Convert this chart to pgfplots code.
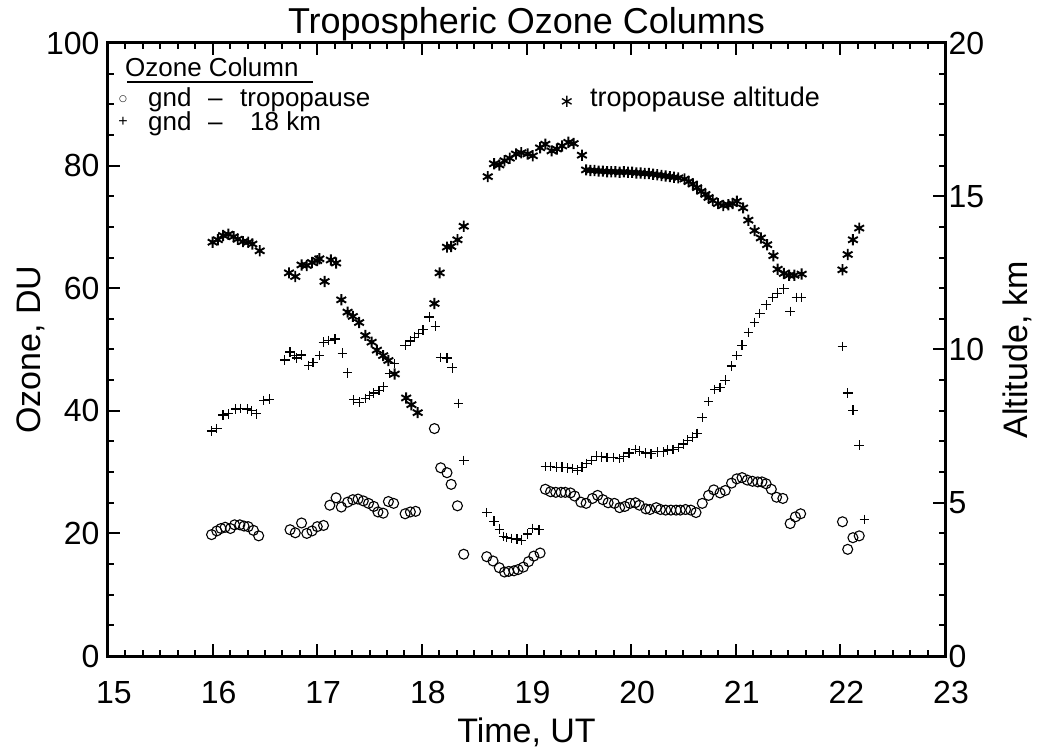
\documentclass[border=0pt]{standalone}
\usepackage{pgfplots}
\pgfplotsset{compat=1.18}
\usepackage{fontspec}
\setmainfont{Liberation Sans}
\newfontfamily\djv{DejaVu Sans}
\newcommand\lf{\fontsize{26}{26}\selectfont}
\begin{document}
\begin{tikzpicture}
\pgfplotsset{
  common/.style={
    scale only axis, width=837pt, height=613pt,
    xmin=15, xmax=23,
    tick align=inside,
    major tick length=12pt, minor tick length=6pt,
    every tick/.style={black, line width=2pt},
    axis line style={line width=3pt},
    ticklabel style={font=\fontsize{32}{32}\selectfont},
    /pgf/number format/assume math mode=true,
    label style={font=\fontsize{34}{34}\selectfont},
    clip=false,
  }
}
\begin{axis}[common, name=main,
  ymin=0, ymax=100,
  xtick={15,...,23}, minor x tick num=5,
  ytick={0,20,...,100}, minor y tick num=3,
  xtick pos=both, xticklabel pos=lower, ytick pos=left,
  xticklabel style={yshift=-22pt, xshift=6pt},
  yticklabel style={xshift=-5pt},
  xlabel={Time, UT},
  xlabel style={at={(axis description cs:0.5,0)}, anchor=base, yshift=-86pt},
  ylabel={Ozone, DU},
  ylabel style={at={(axis description cs:-0.092,0.5)}, anchor=center},
]
% gnd - tropopause
\addplot[only marks, mark=o, mark size=5pt, mark options={line width=1.1pt}] table {
15.99 19.8
16.04 20.4
16.08 20.8
16.12 21.0
16.17 20.8
16.21 21.4
16.26 21.4
16.30 21.2
16.34 21.1
16.39 20.5
16.44 19.6
16.74 20.6
16.79 20.1
16.85 21.7
16.90 20.0
16.95 20.4
17.00 21.1
17.06 21.3
17.12 24.6
17.18 25.8
17.23 24.3
17.29 25.1
17.34 25.5
17.39 25.6
17.44 25.3
17.49 24.9
17.54 24.4
17.58 23.5
17.63 23.3
17.68 25.2
17.73 24.9
17.84 23.2
17.89 23.5
17.94 23.6
18.12 37.1
18.18 30.7
18.24 29.9
18.28 28.0
18.34 24.5
18.40 16.6
18.62 16.2
18.68 15.5
18.74 14.4
18.79 13.7
18.83 13.8
18.88 13.9
18.92 14.1
18.97 14.5
19.02 15.4
19.07 16.3
19.13 16.8
19.18 27.2
19.23 26.8
19.28 26.7
19.33 26.7
19.37 26.7
19.42 26.6
19.46 26.1
19.52 25.1
19.57 24.9
19.63 25.7
19.68 26.2
19.73 25.5
19.78 25.0
19.84 24.9
19.89 24.2
19.94 24.4
19.99 24.9
20.04 25.0
20.08 24.6
20.14 24.0
20.18 23.9
20.24 24.2
20.28 23.9
20.33 23.8
20.38 23.8
20.43 23.8
20.47 23.8
20.52 23.9
20.57 23.8
20.62 23.4
20.68 24.9
20.74 26.2
20.79 27.1
20.85 26.6
20.90 27.0
20.96 28.2
21.01 28.9
21.06 29.1
21.11 28.7
21.16 28.5
21.21 28.4
21.25 28.4
21.29 28.1
21.34 27.2
21.39 25.9
21.45 25.7
21.52 21.6
21.57 22.7
21.62 23.2
22.02 21.9
22.07 17.4
22.12 19.3
22.18 19.6
};
% gnd - 18 km
\addplot[only marks, mark=+, mark size=4.8pt, mark options={line width=1.2pt}] table {
15.99 36.7
16.04 37.1
16.10 39.3
16.15 39.5
16.22 40.3
16.27 40.4
16.33 40.3
16.37 40.0
16.42 39.5
16.49 41.7
16.54 41.9
16.69 48.3
16.74 49.6
16.78 49.0
16.80 48.6
16.85 49.1
16.92 47.4
16.96 47.9
17.02 49.0
17.06 51.2
17.11 51.5
17.17 51.7
17.24 49.4
17.29 46.2
17.35 41.8
17.40 41.4
17.46 42.0
17.50 42.5
17.54 42.9
17.59 43.3
17.63 43.9
17.69 46.1
17.74 47.7
17.84 50.7
17.89 51.4
17.93 52.0
17.97 52.6
18.01 53.2
18.07 55.3
18.13 53.8
18.18 48.7
18.24 48.6
18.29 47.0
18.35 41.2
18.40 31.9
18.62 23.4
18.69 22.0
18.74 20.7
18.78 19.5
18.81 19.3
18.86 19.2
18.91 19.1
18.95 18.9
19.01 19.9
19.06 20.8
19.12 20.6
19.18 30.9
19.23 30.9
19.29 30.8
19.34 30.8
19.39 30.7
19.44 30.6
19.49 30.3
19.53 30.8
19.57 31.4
19.62 31.9
19.67 32.6
19.72 32.5
19.77 32.4
19.83 32.4
19.89 32.2
19.93 32.5
19.98 33.1
20.04 33.7
20.08 33.4
20.14 33.1
20.19 33.0
20.25 33.3
20.31 33.3
20.35 33.6
20.40 33.7
20.45 34.0
20.50 34.6
20.54 35.2
20.59 35.7
20.63 36.3
20.68 38.9
20.74 41.5
20.80 43.5
20.85 43.8
20.90 45.0
20.96 47.3
21.01 49.0
21.06 50.7
21.12 52.8
21.18 54.4
21.23 55.9
21.29 57.3
21.35 58.5
21.40 59.2
21.46 59.9
21.52 56.2
21.58 58.5
21.63 58.5
22.02 50.5
22.07 42.9
22.12 40.1
22.18 34.4
22.23 22.3
};
\end{axis}
\begin{axis}[common,
  ymin=0, ymax=20,
  axis y line*=right, axis x line=none,
  ytick={0,5,...,20}, minor y tick num=4,
  ylabel={Altitude, km},
  ylabel style={at={(axis description cs:1.087,0.5)}, anchor=center, rotate=0},
]
% tropopause altitude, km
\addplot[only marks, mark=asterisk, mark size=5.6pt, mark options={line width=1.9pt}] table {
16.00 13.50
16.05 13.58
16.10 13.72
16.15 13.76
16.20 13.68
16.24 13.60
16.29 13.52
16.34 13.50
16.38 13.44
16.45 13.22
16.73 12.50
16.79 12.38
16.85 12.76
16.90 12.74
16.95 12.84
17.00 12.90
17.02 12.96
17.07 12.22
17.13 12.92
17.18 12.82
17.23 11.62
17.29 11.22
17.34 11.08
17.40 10.88
17.46 10.46
17.52 10.24
17.57 9.98
17.63 9.80
17.68 9.64
17.74 9.20
17.85 8.42
17.90 8.20
17.96 7.94
18.12 11.50
18.17 12.50
18.24 13.34
18.28 13.36
18.34 13.58
18.40 14.02
18.63 15.64
18.69 16.06
18.74 16.02
18.79 16.16
18.84 16.24
18.90 16.38
18.95 16.42
19.01 16.38
19.06 16.32
19.13 16.58
19.18 16.70
19.24 16.48
19.29 16.54
19.34 16.64
19.40 16.76
19.45 16.72
19.53 16.34
19.57 15.86
19.61 15.84
19.65 15.84
19.69 15.82
19.73 15.82
19.77 15.80
19.81 15.80
19.85 15.80
19.89 15.78
19.93 15.80
19.97 15.78
20.01 15.78
20.05 15.76
20.09 15.76
20.13 15.74
20.17 15.74
20.21 15.72
20.25 15.70
20.29 15.68
20.33 15.66
20.37 15.64
20.41 15.62
20.45 15.60
20.51 15.56
20.55 15.48
20.59 15.40
20.63 15.28
20.67 15.16
20.71 15.06
20.74 14.96
20.78 14.86
20.83 14.76
20.88 14.70
20.93 14.72
20.97 14.76
21.01 14.84
21.07 14.62
21.12 14.22
21.18 13.88
21.24 13.64
21.30 13.42
21.36 13.06
21.40 12.62
21.46 12.48
21.51 12.42
21.56 12.42
21.63 12.46
22.02 12.60
22.07 13.10
22.12 13.58
22.18 13.96
};
\end{axis}
% title
\node[anchor=base, inner sep=0, font=\fontsize{36}{36}\selectfont] at ([yshift=9pt]main.north) {Tropospheric Ozone Columns};
% legend
\node[anchor=base west, inner sep=0, font=\lf] at ([xshift=17pt,yshift=579pt]main.south west) {Ozone Column};
\draw[line width=1.5pt] ([xshift=19pt,yshift=574pt]main.south west) -- ++(186pt,0);
\node[anchor=center, inner sep=0, font=\djv\fontsize{9}{9}\selectfont] at ([xshift=15pt,yshift=557pt]main.south west) {○};
\node[anchor=base west, inner sep=0, font=\lf] at ([xshift=40pt,yshift=549pt]main.south west) {gnd};
\node[anchor=base west, inner sep=0, font=\lf] at ([xshift=100pt,yshift=549pt]main.south west) {–};
\node[anchor=base west, inner sep=0, font=\lf] at ([xshift=132pt,yshift=549pt]main.south west) {tropopause};
\node[anchor=center, inner sep=0, font=\fontsize{16}{16}\selectfont] at ([xshift=15pt,yshift=534pt]main.south west) {+};
\node[anchor=base west, inner sep=0, font=\lf] at ([xshift=40pt,yshift=525pt]main.south west) {gnd};
\node[anchor=base west, inner sep=0, font=\lf] at ([xshift=100pt,yshift=525pt]main.south west) {–};
\node[anchor=base west, inner sep=0, font=\lf] at ([xshift=142pt,yshift=525pt]main.south west) {18 km};
\node[anchor=center, inner sep=0, font=\djv\fontsize{18}{18}\selectfont] at ([xshift=459pt,yshift=554pt]main.south west) {∗};
\node[anchor=base west, inner sep=0, font=\fontsize{27}{27}\selectfont] at ([xshift=482pt,yshift=549pt]main.south west) {tropopause altitude};
\pgfresetboundingbox
\path[use as bounding box] ([xshift=-108pt,yshift=-93pt]main.south west) rectangle ([xshift=93pt,yshift=43pt]main.north east);
\end{tikzpicture}
\end{document}
